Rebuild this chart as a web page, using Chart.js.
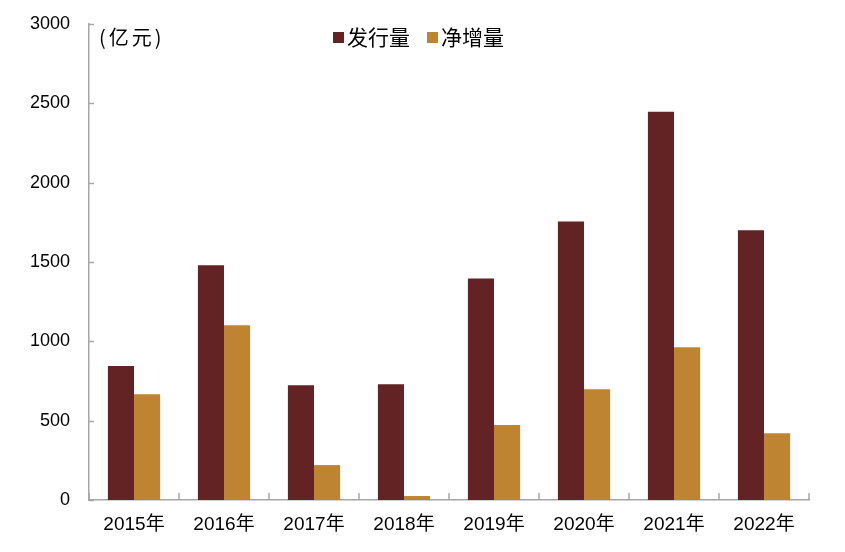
<!DOCTYPE html>
<html>
<head>
<meta charset="utf-8">
<script src="https://cdn.jsdelivr.net/npm/chart.js@4"></script>
<style>
  html, body { margin: 0; padding: 0; background: #fff; }
  #wrap { width: 845px; height: 552px; }
</style>
</head>
<body>
<div id="wrap"><canvas id="bondChart"></canvas></div>
<script>
const years = ['2015年', '2016年', '2017年', '2018年', '2019年', '2020年', '2021年', '2022年'];
const issuance = [845, 1480, 723, 730, 1396, 1755, 2447, 1700];
const netIncrease = [667, 1101, 220, 25, 472, 698, 962, 421];
const yTicks = [0, 500, 1000, 1500, 2000, 2500, 3000];

const FONT = '"Liberation Sans", "Noto Sans CJK SC", sans-serif';
const CJK = '"Noto Sans CJK SC", sans-serif';
const axisColor = '#a6a6a6';

// inward tick marks, unit label and legend drawn on top
const decor = {
  id: 'decor',
  afterDraw(chart) {
    const ctx = chart.ctx;
    const area = chart.chartArea;
    const y = chart.scales.y;
    ctx.save();
    ctx.strokeStyle = axisColor;
    ctx.lineWidth = 1.5;
    ctx.beginPath();
    yTicks.forEach(v => {
      const py = Math.round(y.getPixelForValue(v)) + 0.5;
      ctx.moveTo(area.left, py);
      ctx.lineTo(area.left + 5, py);
    });
    for (let i = 0; i <= years.length; i++) {
      const px = Math.round(area.left + (area.right - area.left) * i / years.length);
      ctx.moveTo(px, area.bottom);
      ctx.lineTo(px, area.bottom - 7);
    }
    ctx.stroke();

    ctx.fillStyle = '#000';
    ctx.font = '20px ' + CJK;
    ctx.textBaseline = 'middle';
    ctx.textAlign = 'left';
    ctx.letterSpacing = '3px';
    ctx.fillText('(亿元)', area.left + 10, 37);
    ctx.letterSpacing = '0px';

    // legend
    let lx = 333;
    const ly = 37;
    chart.data.datasets.forEach(ds => {
      ctx.fillStyle = ds.backgroundColor;
      ctx.fillRect(lx, ly - 5, 11, 11);
      ctx.fillStyle = '#000';
      ctx.font = '21px ' + CJK;
      ctx.fillText(ds.label, lx + 14, ly);
      lx += 94;
    });
    ctx.restore();
  }
};

new Chart(document.getElementById('bondChart'), {
  type: 'bar',
  data: {
    labels: years,
    datasets: [
      { label: '发行量', data: issuance, backgroundColor: '#632324' },
      { label: '净增量', data: netIncrease, backgroundColor: '#be8431' }
    ]
  },
  options: {
    responsive: true,
    maintainAspectRatio: false,
    animation: false,
    layout: { padding: { top: 24, right: 36, left: 0, bottom: 0 } },
    plugins: { legend: { display: false }, tooltip: { enabled: false } },
    datasets: { bar: { categoryPercentage: 0.58, barPercentage: 1.0 } },
    scales: {
      x: {
        grid: { display: false, drawTicks: false },
        border: { color: axisColor, width: 1.5 },
        ticks: { color: '#000', font: { family: FONT, size: 19 }, padding: 13, maxRotation: 0 },
        afterFit(s) { s.height = 52; s.paddingLeft = 0; s.paddingRight = 0; }
      },
      y: {
        min: 0, max: 3000,
        afterBuildTicks(s) { s.ticks = yTicks.map(v => ({ value: v })); },
        grid: { display: false, drawTicks: false },
        border: { color: axisColor, width: 1.5 },
        ticks: { color: '#000', font: { family: FONT, size: 18 }, padding: 19, callback: v => String(v) },
        afterFit(s) { s.width = 89; s.paddingTop = 0; s.paddingBottom = 0; }
      }
    }
  },
  plugins: [decor]
});
</script>
</body>
</html>
